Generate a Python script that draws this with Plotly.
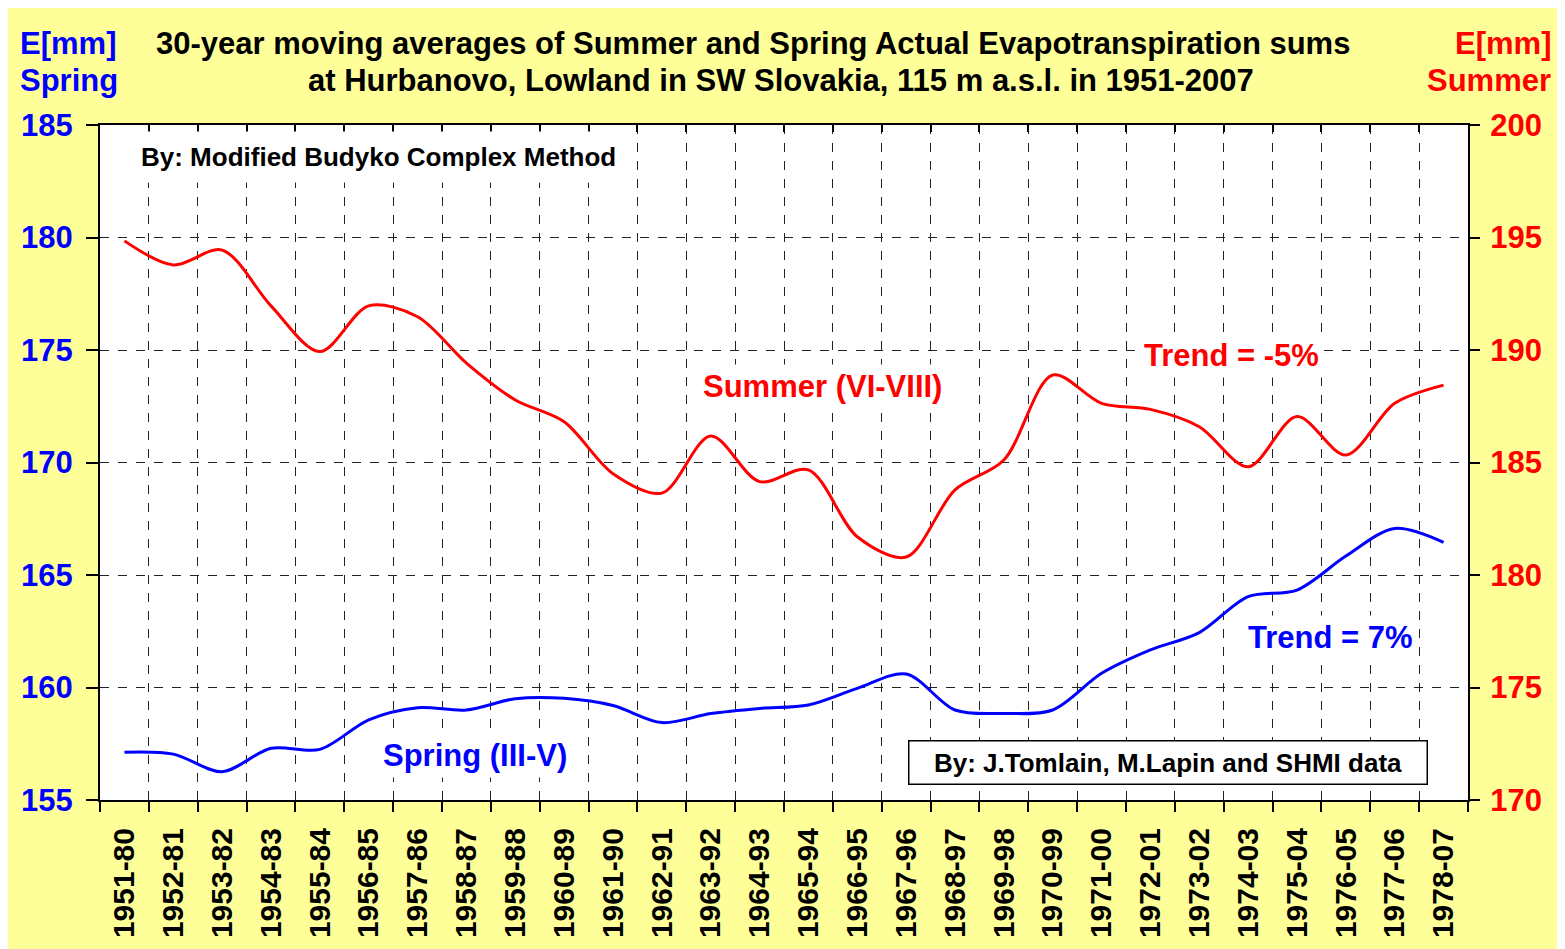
import plotly.graph_objects as go

periods = ["1951-80", "1952-81", "1953-82", "1954-83", "1955-84", "1956-85", "1957-86",
           "1958-87", "1959-88", "1960-89", "1961-90", "1962-91", "1963-92", "1964-93",
           "1965-94", "1966-95", "1967-96", "1968-97", "1969-98", "1970-99", "1971-00",
           "1972-01", "1973-02", "1974-03", "1975-04", "1976-05", "1977-06", "1978-07"]

# Spring (III-V) actual evapotranspiration, left axis [mm]
spring = [157.12, 157.04, 156.26, 157.30, 157.25, 158.56, 159.10, 159.00, 159.50, 159.52,
          159.20, 158.44, 158.84, 159.07, 159.22, 159.96, 160.60, 159.00, 158.85, 159.00,
          160.63, 161.67, 162.44, 164.04, 164.33, 165.84, 167.07, 166.45]

# Summer (VI-VIII) actual evapotranspiration, right axis [mm]
summer = [194.85, 193.78, 194.44, 191.96, 189.93, 191.96, 191.48, 189.42, 187.78, 186.81,
          184.50, 183.64, 186.18, 184.15, 184.67, 181.70, 180.80, 183.78, 185.11, 188.89,
          187.63, 187.36, 186.59, 184.81, 187.04, 185.33, 187.63, 188.44]

left_ticks = [155, 160, 165, 170, 175, 180, 185]
right_ticks = [170, 175, 180, 185, 190, 195, 200]

W, H = 1565, 949
OFF = 8  # page margin of the browser body
L, R, T, B = 100 - OFF, 1468 - OFF, 125 - OFF, 800 - OFF
FONT = "Arial, Liberation Sans, sans-serif"
BLUE = "#0000FF"
RED = "#FF0000"
BG = "#FFFF99"


def px(x):
    return (x - OFF - L) / (R - L)


def py(y):
    return (B - (y - OFF)) / (B - T)


fig = go.Figure()
fig.add_trace(go.Scatter(x=periods, y=spring, mode="lines", name="Spring (III-V)",
                         line=dict(color=BLUE, width=3, shape="spline", smoothing=0.9),
                         xaxis="x", yaxis="y"))
fig.add_trace(go.Scatter(x=periods, y=summer, mode="lines", name="Summer (VI-VIII)",
                         line=dict(color=RED, width=3, shape="spline", smoothing=0.9),
                         xaxis="x2", yaxis="y2"))

grid = dict(griddash="dash", gridcolor="#222222", gridwidth=1.4)
xr = [-0.5, len(periods) - 0.5]

fig.update_layout(
    width=W, height=H,
    margin=dict(l=L, r=W - R, t=T, b=H - B, pad=0, autoexpand=False),
    paper_bgcolor=BG, plot_bgcolor="white",
    showlegend=False,
    font=dict(family=FONT),
    xaxis=dict(type="category", categoryorder="array", categoryarray=periods, range=xr,
               automargin=False,
               tickson="boundaries", ticks="outside", ticklen=10, tickwidth=1.5, tickcolor="black",
               showgrid=True, **grid,
               showline=True, linecolor="black", linewidth=2, ticklabelstandoff=14,
               tickangle=-90, tickfont=dict(size=30, color="black", family=FONT, weight="bold")),
    xaxis2=dict(type="category", categoryorder="array", categoryarray=periods, range=xr,
                automargin=False,
                overlaying="x", side="top", anchor="y2",
                tickson="boundaries", ticks="inside", ticklen=7, tickwidth=1.5, tickcolor="black",
                showgrid=False, showticklabels=False,
                showline=True, linecolor="black", linewidth=2),
    yaxis=dict(range=[155, 185], tickvals=left_ticks, ticks="outside", ticklen=12,
               automargin=False,
               tickwidth=1.5, tickcolor="black", ticklabelstandoff=7,
               showgrid=True, **grid, zeroline=False,
               showline=True, linecolor="black", linewidth=2,
               tickfont=dict(size=31, color=BLUE, family=FONT, weight="bold")),
    yaxis2=dict(range=[170, 200], tickvals=right_ticks, overlaying="y", side="right",
                automargin=False,
                ticks="outside", ticklen=10, tickwidth=1.5, tickcolor="black",
                ticklabelstandoff=4,
                showgrid=False, zeroline=False,
                showline=True, linecolor="black", linewidth=2,
                tickfont=dict(size=31, color=RED, family=FONT, weight="bold")),
)

ann = []


def add(text, x, y, color, size, xanchor="center", **kw):
    ann.append(dict(text=text, x=px(x), y=py(y), xref="paper", yref="paper",
                    xanchor=xanchor, yanchor="middle", showarrow=False,
                    font=dict(size=size, color=color, family=FONT, weight="bold"), **kw))


add("30-year moving averages of Summer and Spring Actual Evapotranspiration sums", 753, 44, "black", 31)
add("at Hurbanovo, Lowland in SW Slovakia, 115 m a.s.l. in 1951-2007", 781, 81, "black", 31)
add("E[mm]", 18, 44, BLUE, 31, xanchor="left")
add("Spring", 18, 81, BLUE, 31, xanchor="left")
add("E[mm]", 1553, 44, RED, 31, xanchor="right")
add("Summer", 1553, 81, RED, 31, xanchor="right")
add("By: Modified Budyko Complex Method", 378, 157, "black", 26, bgcolor="white", borderpad=10)
add("Summer (VI-VIII)", 822, 386, RED, 31, bgcolor="white", borderpad=4)
add("Trend = -5%", 1231, 355, RED, 31, bgcolor="white", borderpad=4)
add("Spring (III-V)", 475, 755, BLUE, 31, bgcolor="white", borderpad=4)
add("Trend = 7%", 1330, 637, BLUE, 31, bgcolor="white", borderpad=4)
add("By: J.Tomlain, M.Lapin and SHMI data", 1168, 762, "black", 26, bgcolor="white",
    bordercolor="black", borderwidth=1.5, width=515, height=40)

fig.update_layout(annotations=ann)
fig.write_html("out.html")
